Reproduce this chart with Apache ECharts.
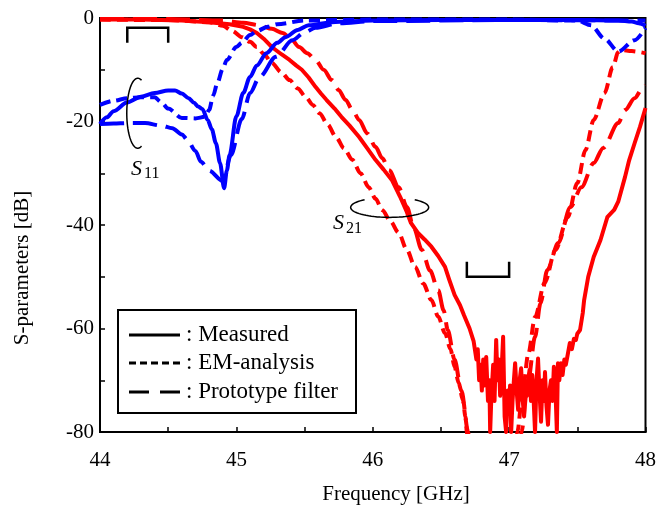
<!DOCTYPE html>
<html><head><meta charset="utf-8">
<script src="https://cdn.jsdelivr.net/npm/echarts@6/dist/echarts.min.js"></script>
<style>html,body{margin:0;padding:0;background:#fff}#c{width:659px;height:511px}</style>
</head><body><div id="c"></div>
<script>
// ---- data (frequency GHz, dB) ----
const xTickLabels = ['44', '45', '46', '47', '48'];
const yTickLabels = ['0', '-20', '-40', '-60', '-80'];
const xAxisTitle = 'Frequency [GHz]';
const yAxisTitle = 'S-parameters [dB]';
const legendLabels = [': Measured', ': EM-analysis', ': Prototype filter'];

const s11Measured = [[44.0,-20.5],[44.05,-19.2],[44.1,-18.0],[44.2,-16.3],[44.3,-15.2],[44.4,-14.5],[44.5,-14.0],[44.55,-14.0],[44.6,-14.6],[44.65,-15.5],[44.69,-16.4],[44.72,-17.1],[44.75,-17.6],[44.79,-19.7],[44.82,-21.5],[44.85,-24.2],[44.88,-28.0],[44.91,-32.9],[44.93,-29.5],[44.95,-26.5],[45.0,-19.0],[45.05,-14.5],[45.1,-11.4],[45.15,-9.2],[45.22,-6.8],[45.3,-4.8],[45.36,-3.7],[45.45,-2.3],[45.53,-1.4],[45.7,-0.8],[46.0,-0.5],[46.5,-0.4],[47.0,-0.4],[47.5,-0.4],[47.8,-0.5],[47.9,-0.7],[47.95,-1.0],[48.0,-1.5]];
const s11EM = [[44.0,-16.8],[44.1,-16.0],[44.2,-15.5],[44.3,-15.3],[44.4,-15.3],[44.45,-16.3],[44.5,-17.5],[44.6,-19.3],[44.7,-19.4],[44.77,-19.1],[44.8,-17.8],[44.83,-15.0],[44.86,-12.6],[44.9,-9.8],[44.93,-8.1],[45.0,-5.6],[45.04,-4.8],[45.1,-3.3],[45.15,-2.5],[45.23,-1.7],[45.3,-1.2],[45.5,-0.5],[46.0,-0.3],[47.0,-0.3],[47.5,-0.5],[47.6,-1.4],[47.7,-4.0],[47.8,-6.5],[47.92,-4.3],[48.0,-1.9]];
const s11Prototype = [[44.0,-20.5],[44.1,-20.4],[44.2,-20.3],[44.33,-20.3],[44.45,-20.8],[44.53,-21.3],[44.6,-22.5],[44.64,-23.5],[44.7,-25.7],[44.74,-27.8],[44.8,-29.5],[44.9,-31.5],[44.96,-26.5],[45.04,-19.5],[45.1,-14.5],[45.17,-11.4],[45.29,-7.5],[45.41,-4.3],[45.5,-2.8],[45.58,-1.9],[45.75,-1.0],[46.0,-0.6],[47.0,-0.4],[48.0,-0.5]];

const s21Measured = [[44.0,-0.3],[44.3,-0.3],[44.6,-0.5],[44.8,-0.8],[44.95,-1.2],[45.05,-1.7],[45.1,-2.2],[45.15,-2.9],[45.2,-4.0],[45.26,-5.6],[45.33,-7.0],[45.39,-8.1],[45.44,-9.2],[45.48,-10.0],[45.53,-11.5],[45.58,-13.3],[45.62,-14.6],[45.66,-15.8],[45.72,-17.5],[45.77,-19.1],[45.83,-20.8],[45.9,-23.0],[45.96,-25.2],[46.02,-27.4],[46.08,-29.3],[46.14,-31.3],[46.2,-34.5],[46.25,-37.5],[46.28,-39.6],[46.33,-41.5],[46.38,-42.8],[46.43,-44.2],[46.48,-46.0],[46.53,-48.1],[46.56,-50.5],[46.6,-53.5],[46.64,-55.5],[46.67,-57.5],[46.71,-60.0],[46.74,-62.5],[46.76,-66],
 [46.77,-64],[46.78,-70],[46.79,-67],[46.8,-72],[46.81,-66],[46.82,-71],[46.832,-65.5],[46.845,-74],[46.855,-70],[46.861,-80],[46.87,-73],[46.883,-67],[46.893,-74],[46.905,-62.2],[46.915,-70],[46.925,-66],[46.934,-73],[46.945,-68],[46.956,-61.6],[46.967,-77],[46.978,-80],[46.99,-72],[47.0,-76],[47.007,-71],[47.015,-80],[47.025,-74],[47.035,-70],[47.044,-66.7],[47.055,-72],[47.066,-75.7],[47.077,-70],[47.088,-67.7],[47.1,-74],[47.11,-77],[47.117,-71],[47.13,-73],[47.139,-70],[47.15,-68],[47.16,-74],[47.17,-69],[47.18,-74],[47.19,-80],[47.201,-70],[47.212,-65.8],[47.222,-72],[47.234,-78],[47.245,-70],[47.255,-74],[47.263,-68.4],[47.274,-75],[47.285,-78.6],[47.296,-72],[47.307,-70],[47.318,-74],[47.328,-67.4],[47.34,-72],[47.35,-80],[47.358,-66.7],[47.368,-70],[47.38,-66.7],[47.392,-69],[47.405,-66],[47.416,-67],[47.43,-65],[47.445,-62.8],[47.46,-64],[47.475,-62],[47.49,-62.2],[47.5,-61],[47.52,-60.3],[47.54,-57],[47.55,-54.5],[47.58,-50],[47.62,-46.2],[47.67,-42.9],[47.72,-38.5],[47.77,-37.1],[47.8,-35.5],[47.85,-30.7],[47.88,-27.5],[47.92,-24.2],[47.96,-21.0],[48.0,-17.4]];
const s21EM = [[44.0,-0.3],[44.5,-0.4],[44.8,-0.8],[44.9,-1.5],[44.97,-2.5],[45.04,-3.7],[45.1,-4.6],[45.15,-5.6],[45.2,-6.9],[45.26,-8.7],[45.33,-10.5],[45.39,-12.0],[45.45,-13.6],[45.51,-15.3],[45.56,-16.8],[45.61,-18.4],[45.67,-20.6],[45.73,-23.0],[45.79,-25.2],[45.85,-27.4],[45.91,-30.0],[45.97,-32.7],[46.02,-34.9],[46.07,-37.1],[46.13,-39.3],[46.19,-41.5],[46.25,-44.8],[46.31,-48.1],[46.37,-51.3],[46.43,-54.5],[46.48,-57.7],[46.53,-60.9],[46.57,-64.0],[46.6,-67.4],[46.63,-70.5],[46.66,-73.8],[46.68,-77.0],[46.69,-80.0],[46.7,-85],
 [47.05,-85],[47.06,-80.0],[47.1,-72.0],[47.14,-65.0],[47.19,-57.8],[47.26,-51.2],[47.34,-44.8],[47.43,-38.5],[47.5,-31.9],[47.56,-25.5],[47.62,-19.7],[47.7,-14.5],[47.76,-9.5],[47.8,-6.6],[47.82,-6.2],[47.9,-6.4],[48.0,-6.8]];
const s21Prototype = [[44.0,-0.2],[44.5,-0.2],[44.9,-0.5],[45.05,-0.9],[45.17,-1.4],[45.26,-2.1],[45.34,-2.9],[45.4,-4.0],[45.46,-5.6],[45.52,-6.8],[45.58,-8.1],[45.64,-10.0],[45.7,-12.0],[45.75,-13.9],[45.8,-15.8],[45.85,-17.7],[45.9,-19.7],[45.96,-22.3],[46.02,-24.9],[46.07,-27.1],[46.12,-29.4],[46.19,-32.7],[46.25,-36.5],[46.3,-40.5],[46.36,-44.8],[46.42,-48.8],[46.48,-52.6],[46.52,-56.5],[46.55,-60.3],[46.6,-66.0],[46.65,-72.0],[46.7,-80.0],[46.71,-85],
 [47.08,-85],[47.09,-80.0],[47.14,-70.0],[47.19,-61.6],[47.23,-55.1],[47.28,-48.7],[47.36,-43.5],[47.45,-36.5],[47.53,-32.7],[47.62,-28.0],[47.69,-25.1],[47.8,-20.3],[47.85,-17.8],[47.92,-15.5],[47.98,-13.5],[48.0,-13.0]];

// ---- annotation anchors (data coords) ----
const bracketS11 = [[44.2,-4.8],[44.2,-1.9],[44.5,-1.9],[44.5,-4.8]];
const bracketS21 = [[46.69,-47.1],[46.69,-50.0],[47.0,-50.0],[47.0,-47.1]];

const FONT = '"Liberation Serif","Times New Roman",serif';
const BLUE = '#0000ff', RED = '#ff0000';
const EMDASH = [11, 6], PROTODASH = [24, 9];

const chart = echarts.init(document.getElementById('c'), null, {renderer: 'canvas'});

function mk(name, data, color, type, smooth) {
  return {
    name, type: 'line', data, showSymbol: false, symbol: 'none', clip: true,
    smooth: smooth ? 0.3 : false, smoothMonotone: 'x',
    lineStyle: {color, width: 4, type, cap: 'butt', join: 'round'},
    animation: false
  };
}

chart.setOption({
  animation: false,
  backgroundColor: '#fff',
  grid: {left: 100, top: 18, width: 548, height: 414, show: true, borderColor: '#000', borderWidth: 2, backgroundColor: 'transparent'},
  xAxis: {
    type: 'value', min: 44, max: 48, interval: 0.5,
    axisLine: {show: true, onZero: false, lineStyle: {color: '#000', width: 2}},
    axisTick: {show: true, inside: true, length: 5, lineStyle: {color: '#000', width: 1.5}},
    axisLabel: {margin: 18, color: '#000', fontFamily: FONT, fontSize: 21,
      formatter: v => { const s = String(v); return xTickLabels.includes(s) ? s : ''; }},
    splitLine: {show: false}
  },
  yAxis: {
    type: 'value', min: -80, max: 0, interval: 10,
    axisLine: {show: true, onZero: false, lineStyle: {color: '#000', width: 2}},
    axisTick: {show: true, inside: true, length: 5, lineStyle: {color: '#000', width: 1.5}},
    axisLabel: {margin: 6, color: '#000', fontFamily: FONT, fontSize: 21,
      formatter: v => { const s = String(v); return yTickLabels.includes(s) ? s : ''; }},
    splitLine: {show: false}
  },
  series: [
    mk('S21 EM', s21EM, RED, EMDASH, true),
    mk('S21 Prototype', s21Prototype, RED, PROTODASH, true),
    mk('S21 Measured', s21Measured, RED, 'solid', false),
    mk('S11 EM', s11EM, BLUE, EMDASH, true),
    mk('S11 Prototype', s11Prototype, BLUE, PROTODASH, true),
    mk('S11 Measured', s11Measured, BLUE, 'solid', true)
  ]
});

function px(p) { return chart.convertToPixel({gridIndex: 0}, p); }
function ellipsePts(c, rx, ry, t0, t1) {
  const pts = [];
  for (let i = 0; i <= 60; i++) {
    const t = (t0 + (t1 - t0) * i / 60) * Math.PI / 180;
    pts.push([c[0] + rx * Math.cos(t), c[1] + ry * Math.sin(t)]);
  }
  return pts;
}
const e11 = px([44.277, -18.4]);
const e21 = px([46.124, -36.6]);

const g = [];
g.push({type: 'polyline', z: 100, shape: {points: bracketS11.map(px)}, style: {stroke: '#000', lineWidth: 2.5, fill: null}});
g.push({type: 'polyline', z: 100, shape: {points: bracketS21.map(px)}, style: {stroke: '#000', lineWidth: 2.5, fill: null}});
g.push({type: 'polyline', z: 100, shape: {points: ellipsePts(e11, 11, 35, 70, 290)}, style: {stroke: '#000', lineWidth: 1.5, fill: null}});
g.push({type: 'polyline', z: 100, shape: {points: ellipsePts(e21, 39, 10, -50, 230)}, style: {stroke: '#000', lineWidth: 1.5, fill: null}});
// S11 / S21 labels
g.push({type: 'text', z: 100, style: {text: 'S', x: 131, y: 169, font: 'italic 22px ' + FONT, fill: '#000', verticalAlign: 'middle'}});
g.push({type: 'text', z: 100, style: {text: '11', x: 144, y: 174, font: '16px ' + FONT, fill: '#000', verticalAlign: 'middle'}});
g.push({type: 'text', z: 100, style: {text: 'S', x: 333, y: 223, font: 'italic 22px ' + FONT, fill: '#000', verticalAlign: 'middle'}});
g.push({type: 'text', z: 100, style: {text: '21', x: 346, y: 229, font: '16px ' + FONT, fill: '#000', verticalAlign: 'middle'}});
// axis titles
g.push({type: 'text', z: 100, style: {text: xAxisTitle, x: 396, y: 494, font: '21px ' + FONT, fill: '#000', align: 'center', verticalAlign: 'middle'}});
g.push({type: 'text', z: 100, x: 22, y: 268, rotation: Math.PI / 2, style: {text: yAxisTitle, x: 0, y: 0, font: '21px ' + FONT, fill: '#000', align: 'center', verticalAlign: 'middle'}});
// legend
g.push({type: 'rect', z: 100, shape: {x: 118, y: 310, width: 238, height: 103}, style: {fill: '#fff', stroke: '#000', lineWidth: 2}});
const rows = [335, 363, 392];
const dashes = [null, [7, 4], [20, 11]];
rows.forEach((y, i) => {
  g.push({type: 'line', z: 101, shape: {x1: 129, y1: y, x2: 180, y2: y}, style: {stroke: '#000', lineWidth: 3, lineDash: dashes[i]}});
  g.push({type: 'text', z: 101, style: {text: legendLabels[i], x: 186, y: y, font: '23px ' + FONT, fill: '#000', verticalAlign: 'middle'}});
});
chart.setOption({graphic: g});
</script>
</body></html>
